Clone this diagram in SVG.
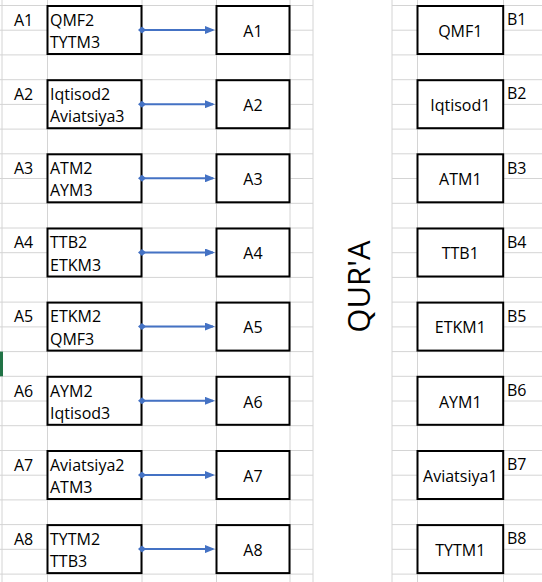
<svg xmlns="http://www.w3.org/2000/svg" width="542" height="582" viewBox="0 0 542 582">
<style>
.grid{stroke:#d4d4d4;stroke-width:1;fill:none}
.box{fill:#fff;stroke:#000;stroke-width:2}
.t{font-family:"Open Sans","Liberation Sans",sans-serif;font-size:16px;fill:#000}
.c{text-anchor:middle}
.arr{stroke:#4472C4;stroke-width:2;fill:none;marker-start:url(#dia);marker-end:url(#tri)}
</style>
<defs>
<marker id="tri" markerUnits="userSpaceOnUse" markerWidth="10" markerHeight="8" refX="8" refY="4" orient="auto"><path d="M0,0 L10,4 L0,8 z" fill="#4472C4"/></marker>
<marker id="dia" markerUnits="userSpaceOnUse" markerWidth="8" markerHeight="8" refX="4" refY="4" orient="auto"><path d="M0,4 L4,0.5 L8,4 L4,7.5 z" fill="#4472C4"/></marker>
</defs>
<rect width="542" height="582" fill="#fff"/>
<g id="grid">
<path class="grid" d="M0,5.5H313M0,30.2H313M0,54.9H313M0,79.7H313M0,104.4H313M0,129.1H313M0,153.8H313M0,178.5H313M0,203.3H313M0,228H313M0,252.7H313M0,277.4H313M0,302.1H313M0,326.9H313M0,351.6H313M0,376.3H313M0,401H313M0,425.7H313M0,450.5H313M0,475.2H313M0,499.9H313M0,524.6H313M0,549.3H313M0,574.1H313"/>
<path class="grid" d="M392,5.5H542M392,30.2H542M392,54.9H542M392,79.7H542M392,104.4H542M392,129.1H542M392,153.8H542M392,178.5H542M392,203.3H542M392,228H542M392,252.7H542M392,277.4H542M392,302.1H542M392,326.9H542M392,351.6H542M392,376.3H542M392,401H542M392,425.7H542M392,450.5H542M392,475.2H542M392,499.9H542M392,524.6H542M392,549.3H542M392,574.1H542"/>
<path class="grid" d="M2,0V582M47.5,0V582M142,0V582M216.5,0V582M290,0V582M313,0V582M392,0V582M417.5,0V582M503.5,0V582"/>
<rect x="0" y="351.6" width="3" height="24.7" fill="#217346"/>
</g>
<g id="qura"><text class="t c" transform="translate(370,286.5) rotate(-90)" style="font-size:31px">QUR'A</text></g>
<g id="row1"><text class="t" x="14" y="25.7">A1</text><g id="src1"><rect class="box" x="47.5" y="6" width="94" height="48"/><text class="t" x="50" y="25.7">QMF2</text><text class="t" x="50" y="48">TYTM3</text></g><g id="dst1"><rect class="box" x="216.5" y="6" width="73" height="48"/><text class="t c" x="253" y="36.7">A1</text></g><g id="b1"><rect class="box" x="417.5" y="6" width="85.7" height="48"/><text class="t c" x="460.3" y="36.7">QMF1</text></g><text class="t" x="507" y="25.2">B1</text></g>
<g id="row2"><text class="t" x="14" y="99.9">A2</text><g id="src2"><rect class="box" x="47.5" y="80.2" width="94" height="48"/><text class="t" x="50" y="99.9">Iqtisod2</text><text class="t" x="50" y="122.2">Aviatsiya3</text></g><g id="dst2"><rect class="box" x="216.5" y="80.2" width="73" height="48"/><text class="t c" x="253" y="110.9">A2</text></g><g id="b2"><rect class="box" x="417.5" y="80.2" width="85.7" height="48"/><text class="t c" x="460.3" y="110.9">Iqtisod1</text></g><text class="t" x="507" y="99.4">B2</text></g>
<g id="row3"><text class="t" x="14" y="174">A3</text><g id="src3"><rect class="box" x="47.5" y="154.3" width="94" height="48"/><text class="t" x="50" y="174">ATM2</text><text class="t" x="50" y="196.3">AYM3</text></g><g id="dst3"><rect class="box" x="216.5" y="154.3" width="73" height="48"/><text class="t c" x="253" y="185">A3</text></g><g id="b3"><rect class="box" x="417.5" y="154.3" width="85.7" height="48"/><text class="t c" x="460.3" y="185">ATM1</text></g><text class="t" x="507" y="173.5">B3</text></g>
<g id="row4"><text class="t" x="14" y="248.2">A4</text><g id="src4"><rect class="box" x="47.5" y="228.5" width="94" height="48"/><text class="t" x="50" y="248.2">TTB2</text><text class="t" x="50" y="270.5">ETKM3</text></g><g id="dst4"><rect class="box" x="216.5" y="228.5" width="73" height="48"/><text class="t c" x="253" y="259.2">A4</text></g><g id="b4"><rect class="box" x="417.5" y="228.5" width="85.7" height="48"/><text class="t c" x="460.3" y="259.2">TTB1</text></g><text class="t" x="507" y="247.7">B4</text></g>
<g id="row5"><text class="t" x="14" y="322.3">A5</text><g id="src5"><rect class="box" x="47.5" y="302.6" width="94" height="48"/><text class="t" x="50" y="322.3">ETKM2</text><text class="t" x="50" y="344.6">QMF3</text></g><g id="dst5"><rect class="box" x="216.5" y="302.6" width="73" height="48"/><text class="t c" x="253" y="333.3">A5</text></g><g id="b5"><rect class="box" x="417.5" y="302.6" width="85.7" height="48"/><text class="t c" x="460.3" y="333.3">ETKM1</text></g><text class="t" x="507" y="321.8">B5</text></g>
<g id="row6"><text class="t" x="14" y="396.5">A6</text><g id="src6"><rect class="box" x="47.5" y="376.8" width="94" height="48"/><text class="t" x="50" y="396.5">AYM2</text><text class="t" x="50" y="418.8">Iqtisod3</text></g><g id="dst6"><rect class="box" x="216.5" y="376.8" width="73" height="48"/><text class="t c" x="253" y="407.5">A6</text></g><g id="b6"><rect class="box" x="417.5" y="376.8" width="85.7" height="48"/><text class="t c" x="460.3" y="407.5">AYM1</text></g><text class="t" x="507" y="396">B6</text></g>
<g id="row7"><text class="t" x="14" y="470.7">A7</text><g id="src7"><rect class="box" x="47.5" y="451" width="94" height="48"/><text class="t" x="50" y="470.7">Aviatsiya2</text><text class="t" x="50" y="493">ATM3</text></g><g id="dst7"><rect class="box" x="216.5" y="451" width="73" height="48"/><text class="t c" x="253" y="481.7">A7</text></g><g id="b7"><rect class="box" x="417.5" y="451" width="85.7" height="48"/><text class="t c" x="460.3" y="481.7">Aviatsiya1</text></g><text class="t" x="507" y="470.2">B7</text></g>
<g id="row8"><text class="t" x="14" y="544.8">A8</text><g id="src8"><rect class="box" x="47.5" y="525.1" width="94" height="48"/><text class="t" x="50" y="544.8">TYTM2</text><text class="t" x="50" y="567.1">TTB3</text></g><g id="dst8"><rect class="box" x="216.5" y="525.1" width="73" height="48"/><text class="t c" x="253" y="555.8">A8</text></g><g id="b8"><rect class="box" x="417.5" y="525.1" width="85.7" height="48"/><text class="t c" x="460.3" y="555.8">TYTM1</text></g><text class="t" x="507" y="544.3">B8</text></g>
<g id="connectors">
<path class="arr" d="M142,30H213"/>
<path class="arr" d="M142,104.2H213"/>
<path class="arr" d="M142,178.3H213"/>
<path class="arr" d="M142,252.5H213"/>
<path class="arr" d="M142,326.6H213"/>
<path class="arr" d="M142,400.8H213"/>
<path class="arr" d="M142,475H213"/>
<path class="arr" d="M142,549.1H213"/>
</g>
</svg>
